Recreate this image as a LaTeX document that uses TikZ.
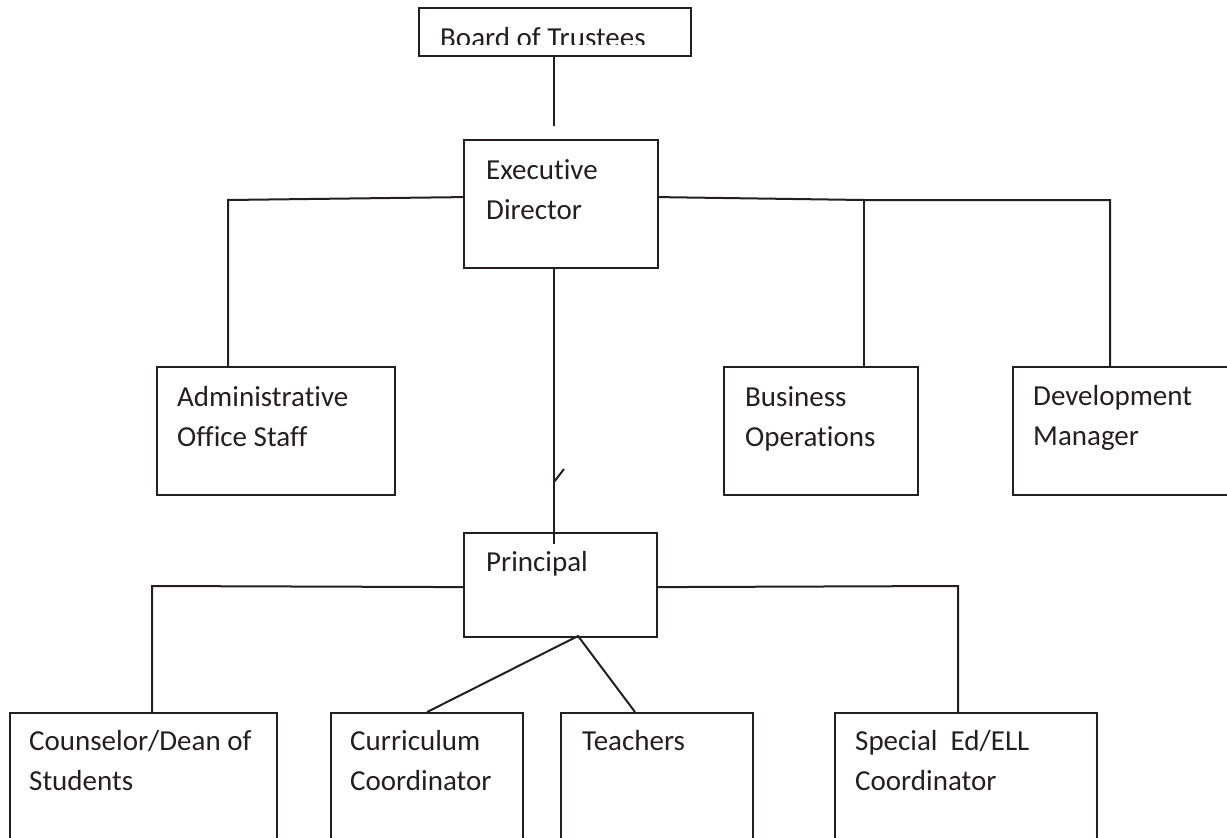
\documentclass[tikz,border=0pt]{standalone}
\usepackage{fontspec}
\setmainfont{Carlito}[Ligatures=NoCommon]
\usepackage{tikz}
\definecolor{ink}{HTML}{231F20}
\tikzset{
  box/.style={draw=ink, line width=2.2pt, rectangle, inner sep=0pt, anchor=north west},
  lbl/.style={font=\fontsize{29}{40}\selectfont, text=ink, align=left, inner sep=0pt, anchor=base west},
  link/.style={draw=ink, line width=2pt}
}
\begin{document}
\begin{tikzpicture}[x=1pt,y=-1pt]
            \useasboundingbox (0,0) rectangle (1227,838);
            \clip (0,0) rectangle (1227,838);
            \node[box, minimum width=272pt, minimum height=48pt] (board) at (418,7) {};
            \node[box, minimum width=194pt, minimum height=128pt] (exec) at (463,139) {};
            \node[box, minimum width=238pt, minimum height=128pt] (admin) at (156,366) {};
            \node[box, minimum width=194pt, minimum height=128pt] (busi) at (723,366) {};
            \node[box, minimum width=230pt, minimum height=128pt] (devel) at (1012,366) {};
            \node[box, minimum width=193pt, minimum height=104pt] (princ) at (463,532) {};
            \node[box, minimum width=267pt, minimum height=160pt] (couns) at (9,712) {};
            \node[box, minimum width=192pt, minimum height=160pt] (curric) at (330,712) {};
            \node[box, minimum width=192pt, minimum height=160pt] (teach) at (560,712) {};
            \node[box, minimum width=262pt, minimum height=160pt] (spec) at (834,712) {};
            \begin{scope}
              \clip (418,7) rectangle (690,44);
              \node[lbl] (boardtxt) at (440,47) {Board of Trustees};
            \end{scope}
            \node[lbl] (exectxt) at (486,219) {Executive\\Director};
            \node[lbl] (admintxt) at (177,446) {Administrative\\Office Staff};
            \node[lbl] (busitxt) at (745,446) {Business\\Operations};
            \node[lbl] (develtxt) at (1033,445) {Development\\Manager};
            \node[lbl] (princtxt) at (486,571) {Principal};
            \node[lbl] (counstxt) at (29,790) {Counselor/Dean of\\Students};
            \node[lbl] (currictxt) at (350,790) {Curriculum\\Coordinator};
            \node[lbl] (teachtxt) at (582,750) {Teachers};
            \node[lbl] (spectxt) at (855,790) {Special\ \ Ed/ELL\\Coordinator};
            \coordinate (bt) at (554,126);
            \coordinate (eL) at (228,200);
            \coordinate (eM) at (864,200);
            \coordinate (eR) at (1110,200);
            \coordinate (pT) at (554,544);
            \coordinate (pL) at (152,586);
            \coordinate (pR) at (958,586);
            \coordinate (pB) at (578,636);
            \coordinate (tT) at (635,712);
            \draw[link] (board.south -| bt) -- (bt);
            \draw[link] ([yshift=7pt]exec.west) -- (eL) -- (eL |- admin.north);
            \draw[link] ([yshift=7pt]exec.east) -- (eM) -- (eR) -- (eR |- devel.north);
            \draw[link] (eM) -- (eM |- busi.north);
            \draw[link] (pT |- exec.south) -- (pT);
            \draw[link] (554,482) -- ++(10,-13);
            \draw[link] ([yshift=-2pt]princ.west) -- (pL) -- (pL |- couns.north);
            \draw[link] ([yshift=-2pt]princ.east) -- (pR) -- (pR |- spec.north);
            \draw[link] (curric.north) -- (pB) -- (tT);
        \end{tikzpicture}
\end{document}
